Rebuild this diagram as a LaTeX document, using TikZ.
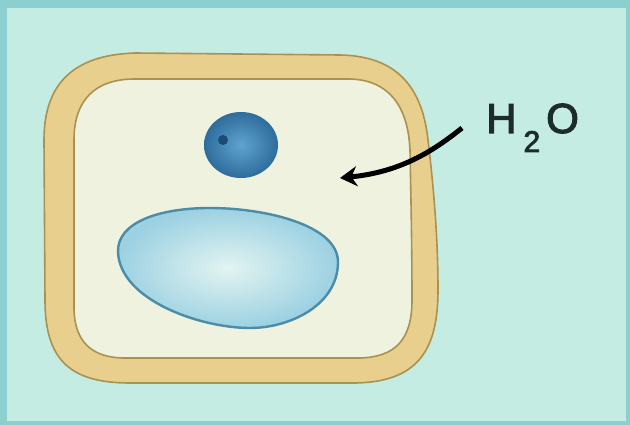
\documentclass[tikz,border=0pt]{standalone}
\usepackage{fontspec}
\setmainfont{Liberation Sans}
\newfontfamily\labelfont[BoldFont={Liberation Sans}, BoldFeatures={FakeBold=2.6}]{Liberation Sans}
\usetikzlibrary{arrows.meta}
\definecolor{bgcol}{HTML}{C5ECE3}
\definecolor{framecol}{HTML}{8CCFCF}
\definecolor{wallfill}{HTML}{E9CF8D}
\definecolor{wallline}{HTML}{A99250}
\definecolor{cytofill}{HTML}{EEF2DE}
\definecolor{nucin}{HTML}{5FA3D0}
\definecolor{nucout}{HTML}{2E6C9C}
\definecolor{nucdot}{HTML}{1B4A74}
\definecolor{vacin}{HTML}{E2F4F1}
\definecolor{vacout}{HTML}{9CD1E2}
\definecolor{vacline}{HTML}{4B8CA8}
\definecolor{inkcol}{HTML}{1D2B2A}
\tikzset{
  wallstroke/.style={draw=wallline, line width=1.6pt},
  waterarrow/.style={-{Stealth[length=17pt,width=20pt]}, line width=5pt, black},
  label/.style={font=\labelfont\bfseries\fontsize{42}{42}\selectfont, text=inkcol, inner sep=0pt}
}
\begin{document}
\begin{tikzpicture}[x=1pt,y=-1pt]
  % background panel with a darker edge band
  \fill[framecol] (0,0) rectangle (630,425);
  \fill[bgcol] (7,8) rectangle (626,421);
  \useasboundingbox (0,0) rectangle (630,425);

  % cell wall (outer boundary)
  \path[fill=wallfill, wallstroke]
    (44,140) .. controls (44,85) and (72,55) .. (135,53)
    -- (340,55) .. controls (395,56) and (422,85) .. (428,140)
    .. controls (434,190) and (438,240) .. (438,290)
    .. controls (438,350) and (418,382) .. (355,383)
    -- (130,383) .. controls (70,383) and (45,360) .. (45,300) -- cycle;

  % cytoplasm inside the membrane
  \path[fill=cytofill, wallstroke]
    (74,140) .. controls (74,100) and (95,79) .. (135,79)
    -- (350,79) .. controls (388,80) and (408,105) .. (410,150)
    .. controls (411,200) and (412,250) .. (412,300)
    .. controls (412,340) and (395,357) .. (360,358)
    -- (125,358) .. controls (90,358) and (75,340) .. (74,310) -- cycle;

  % nucleus with nucleolus
  \shade[inner color=nucin, outer color=nucout] (241,145) ellipse [x radius=37, y radius=33];
  \fill[nucdot] (223,140) circle (5);

  % central vacuole
  \shade[inner color=vacin, outer color=vacout, draw=vacline, line width=2.4pt]
    (118,252) .. controls (117,222) and (160,208) .. (210,208)
    .. controls (265,208) and (338,225) .. (338,262)
    .. controls (338,305) and (290,328) .. (250,328)
    .. controls (200,328) and (120,300) .. (118,252) -- cycle;

  % water label and the inflow arrow
  \node[label, anchor=base west] (water) at (486,133)
    {H\kern 7pt\raisebox{-19pt}{\fontsize{30}{30}\selectfont 2}\kern 6pt O};
  \coordinate (arrowstart) at (462,128);
  \coordinate (arrowtip) at (340,178);
  \draw[waterarrow] (arrowstart) .. controls (432,152) and (400,172) .. (arrowtip);
\end{tikzpicture}
\end{document}
